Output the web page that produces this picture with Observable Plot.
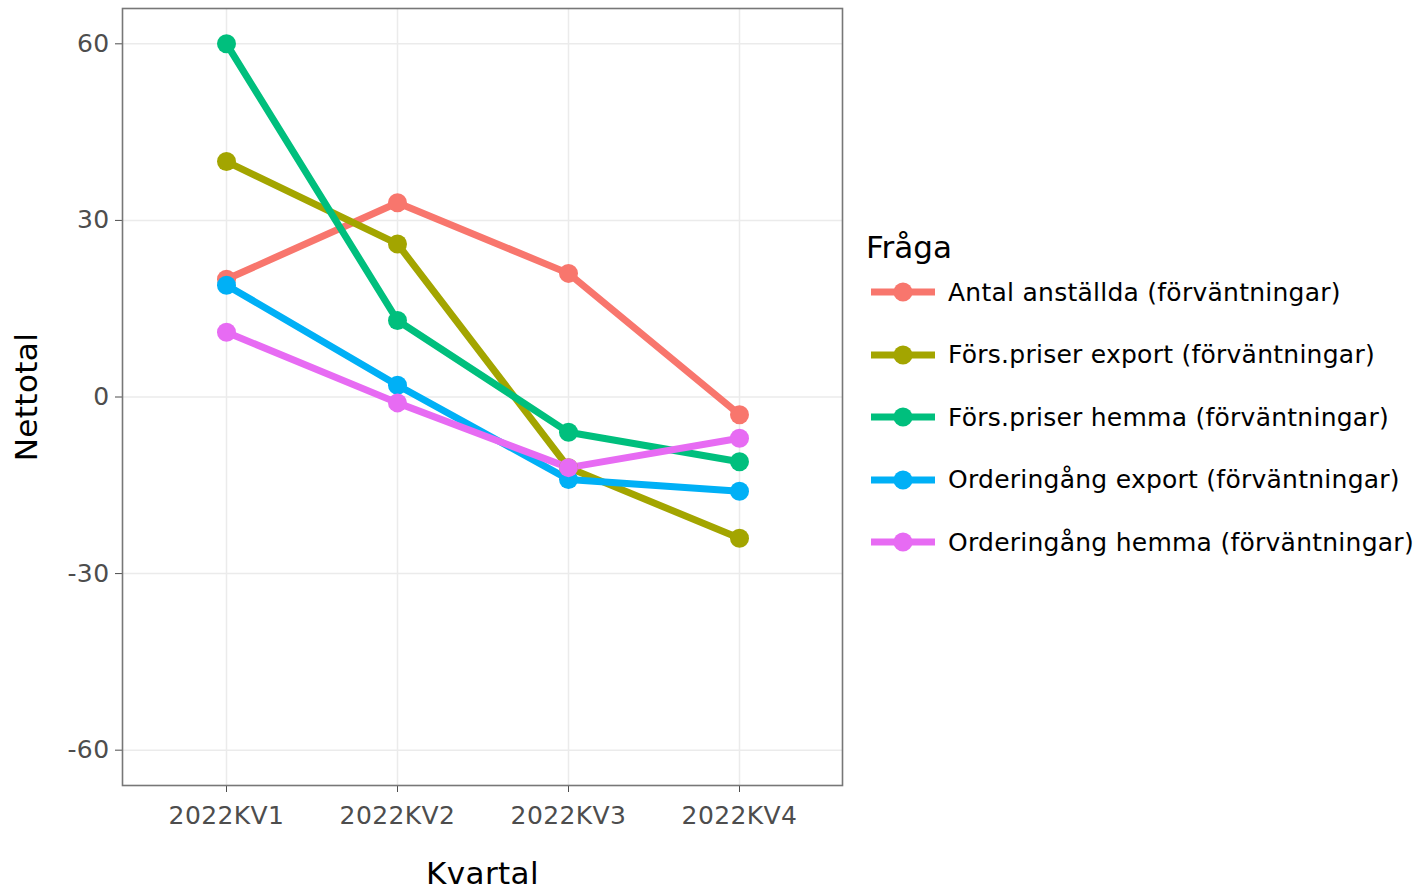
<!DOCTYPE html>
<html>
<head>
<meta charset="utf-8">
<script src="https://cdn.jsdelivr.net/npm/d3@7"></script>
<script src="https://cdn.jsdelivr.net/npm/@observablehq/plot@0.6"></script>
<style>
  html, body { margin: 0; padding: 0; background: #fff; }
  body { font-family: "DejaVu Sans", sans-serif; }
  #wrap { position: relative; width: 1420px; height: 890px; }
  #legend { position: absolute; left: 866px; top: 229px; }
  #legend .title { font-size: 31px; color: #000; line-height: 36px; height: 32px; }
  #legend .row { display: flex; align-items: center; height: 62.5px; }
  #legend .row svg { margin-left: 5px; margin-right: 13px; }
  #legend .row span { font-size: 25px; letter-spacing: 0.25px; color: #000; white-space: nowrap; }
</style>
</head>
<body>
<div id="wrap"></div>
<script>
const quarters = ["2022KV1", "2022KV2", "2022KV3", "2022KV4"];
const seriesNames = [
  "Antal anställda (förväntningar)",
  "Förs.priser export (förväntningar)",
  "Förs.priser hemma (förväntningar)",
  "Orderingång export (förväntningar)",
  "Orderingång hemma (förväntningar)"
];
const antalAnstallda = [20, 33, 21, -3];
const forsPriserExport = [40, 26, -12, -24];
const forsPriserHemma = [60, 13, -6, -11];
const orderExport = [19, 2, -14, -16];
const orderHemma = [11, -1, -12, -7];
const seriesValues = [antalAnstallda, forsPriserExport, forsPriserHemma, orderExport, orderHemma];
const colors = ["#F8766D", "#A3A500", "#00BF7D", "#00B0F6", "#E76BF3"];
const yTicks = [-60, -30, 0, 30, 60];
const legendTitle = "Fråga";
const xTitle = "Kvartal";
const yTitle = "Nettotal";

const data = [];
seriesNames.forEach((s, i) => quarters.forEach((q, j) => data.push({s, q, v: seriesValues[i][j]})));

const chart = Plot.plot({
  width: 1420,
  height: 890,
  marginLeft: 122,
  marginRight: 578,
  marginTop: 8,
  marginBottom: 105,
  style: { fontFamily: "DejaVu Sans, sans-serif", background: "#fff", letterSpacing: "0.4px" },
  x: { type: "point", domain: quarters, padding: 0.6 },
  y: { domain: [-66, 66] },
  color: { domain: seriesNames, range: colors },
  marks: [
    Plot.gridY(yTicks, { stroke: "#ebebeb", strokeOpacity: 1, strokeWidth: 1.5 }),
    Plot.gridX(quarters, { stroke: "#ebebeb", strokeOpacity: 1, strokeWidth: 1.5 }),
    Plot.axisY(yTicks, { tickSize: 7, tickPadding: 6, fontSize: 25, color: "#4d4d4d", label: null, tickFormat: d => String(d) }),
    Plot.axisX(quarters, { tickSize: 7, tickPadding: 14, fontSize: 25, color: "#4d4d4d", label: null }),
    Plot.line(data, { x: "q", y: "v", stroke: "s", z: "s", strokeWidth: 7, strokeLinecap: "butt" }),
    Plot.dot(data, { x: "q", y: "v", fill: "s", r: 9.5 }),
    Plot.frame({ stroke: "#777", strokeWidth: 1.6 }),
    Plot.text([xTitle], { frameAnchor: "bottom", dy: 89, fontSize: 31, fill: "#000", lineAnchor: "middle", textAnchor: "middle" }),
    Plot.text([yTitle], { frameAnchor: "left", dx: -95, rotate: -90, fontSize: 31, fill: "#000", lineAnchor: "middle", textAnchor: "middle" })
  ]
});

const wrap = document.getElementById("wrap");
wrap.appendChild(chart);

const legend = document.createElement("div");
legend.id = "legend";
const t = document.createElement("div");
t.className = "title";
t.textContent = legendTitle;
legend.appendChild(t);
seriesNames.forEach((s, i) => {
  const row = document.createElement("div");
  row.className = "row";
  row.innerHTML = `<svg width="64" height="22"><line x1="0" x2="64" y1="11" y2="11" stroke="${colors[i]}" stroke-width="7"/><circle cx="32" cy="11" r="9.5" fill="${colors[i]}"/></svg><span></span>`;
  row.querySelector("span").textContent = s;
  legend.appendChild(row);
});
wrap.appendChild(legend);
</script>
</body>
</html>
